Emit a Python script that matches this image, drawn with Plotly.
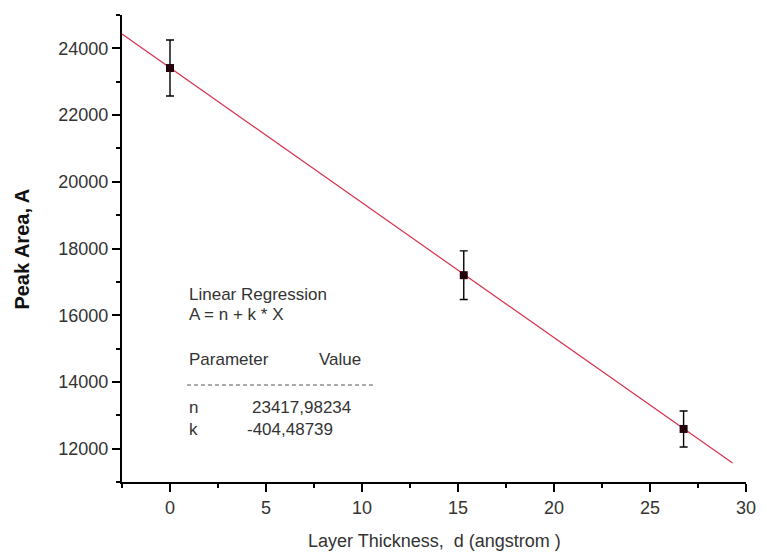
import plotly.graph_objects as go

# Measured peak areas versus layer thickness
thickness = [0.0, 15.3, 26.75]
peak_area = [23410, 17200, 12590]
area_err = [840, 730, 540]

# Linear regression parameters A = n + k * X
n_param = 23417.98234
k_param = -404.48739
fit_x = [-2.5, 29.3]
fit_y = [n_param + k_param * x for x in fit_x]

x_ticks = [0, 5, 10, 15, 20, 25, 30]
y_ticks = [12000, 14000, 16000, 18000, 20000, 22000, 24000]

W, H = 767, 554
L, R, T, B = 122, 11, 15, 72
PW, PH = W - L - R, H - T - B


def px(x):
    return (x - L) / PW


def py(y):
    return (H - B - y) / PH


FONT = "Liberation Sans, Arial, sans-serif"

fig = go.Figure()

fig.add_trace(go.Scatter(
    x=fit_x, y=fit_y, mode="lines",
    line=dict(color="#d8304e", width=1.2),
    showlegend=False, hoverinfo="skip",
))

fig.add_trace(go.Scatter(
    x=thickness, y=peak_area, mode="markers",
    marker=dict(symbol="square", size=8, color="#24000c"),
    error_y=dict(type="data", array=area_err, visible=True,
                 color="#000000", thickness=1.4, width=4),
    showlegend=False,
))

axis_common = dict(
    showline=True, linecolor="#000000", linewidth=2,
    showgrid=False, zeroline=False, mirror=False,
    ticks="outside", ticklen=8, tickwidth=2, tickcolor="#000000",
    tickfont=dict(family=FONT, size=18, color="#333333"),
)

fig.update_xaxes(
    range=[-2.5, 30], tickvals=x_ticks,
    ticktext=[str(v) for v in x_ticks],
    minor=dict(dtick=2.5, tick0=0, ticks="outside", ticklen=4,
               tickwidth=2, tickcolor="#000000"),
    **axis_common,
)
fig.update_yaxes(
    range=[11000, 25000], tickvals=y_ticks,
    ticktext=[str(v) for v in y_ticks],
    minor=dict(dtick=1000, tick0=0, ticks="outside", ticklen=4,
               tickwidth=2, tickcolor="#000000"),
    **axis_common,
)

ann_font = dict(family=FONT, size=17, color="#333333")
fmt = lambda v: f"{v:.5f}".replace(".", ",")

texts = [
    ("Linear Regression", 188, 294),
    ("A = n + k * X", 188, 314),
    ("Parameter", 188, 359),
    ("Value", 320, 359),
    ("n", 188, 407),
    (fmt(n_param), 252, 407),
    ("k", 188, 429),
    (fmt(k_param), 247, 429),
]
for txt, x, y in texts:
    fig.add_annotation(text=txt, xref="paper", yref="paper",
                       x=px(x), y=py(y), xanchor="left", yanchor="middle",
                       showarrow=False, font=ann_font)

fig.add_shape(type="line", xref="paper", yref="paper",
              x0=px(188), x1=px(377), y0=py(385), y1=py(385),
              line=dict(color="#555555", width=1, dash="4px,3px"))

fig.add_annotation(text="Layer Thickness,  d (angstrom )", xref="paper", yref="paper",
                   x=px(440), y=py(541), xanchor="center", yanchor="middle",
                   showarrow=False,
                   font=dict(family=FONT, size=18, color="#333333"))
fig.add_annotation(text="<b>Peak Area, A</b>", xref="paper", yref="paper",
                   x=px(20), y=py(249), xanchor="center", yanchor="middle",
                   textangle=-90, showarrow=False,
                   font=dict(family=FONT, size=20, color="#111111"))

fig.update_layout(
    width=W, height=H,
    margin=dict(l=L, r=R, t=T, b=B),
    paper_bgcolor="#ffffff", plot_bgcolor="#ffffff",
)

fig.write_html("out.html")
